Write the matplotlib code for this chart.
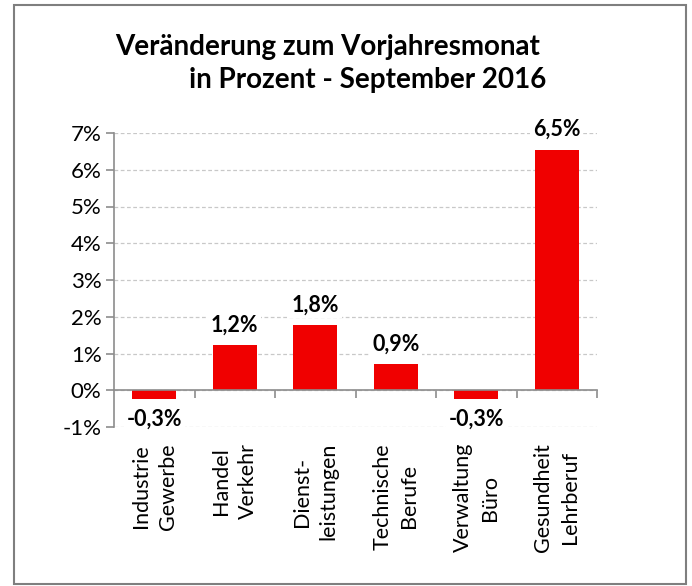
import matplotlib.pyplot as plt
from matplotlib.patches import Rectangle

categories = ["Industrie\nGewerbe", "Handel\nVerkehr", "Dienst-\nleistungen",
              "Technische\nBerufe", "Verwaltung\nBüro", "Gesundheit\nLehrberuf"]
values = [-0.25, 1.22, 1.77, 0.71, -0.25, 6.54]
value_labels = ["-0,3%", "1,2%", "1,8%", "0,9%", "-0,3%", "6,5%"]
yticks = [-1, 0, 1, 2, 3, 4, 5, 6, 7]

plt.rcParams['font.family'] = ['Lato', 'DejaVu Sans']
red = '#f00000'
grey = '#8c8c8c'

fig = plt.figure(figsize=[6.92, 5.86], dpi=100, facecolor='white')
ax = fig.add_axes([114 / 692, 1 - 427 / 586, 483 / 692, 294 / 586])

x = list(range(len(categories)))
ax.bar(x, values, width=0.55, color=red, zorder=3)

ax.set_xlim(-0.5, 5.5)
ax.set_ylim(-1, 7)
ax.set_yticks(yticks)
ax.set_yticklabels([f"{v}%" for v in yticks], fontsize=16)
ax.grid(axis='y', color='#c8c8c8', linestyle=(0, (3, 2)), linewidth=0.9, zorder=0)

for s in ['top', 'right']:
    ax.spines[s].set_visible(False)
ax.spines['bottom'].set_position(('data', 0))
ax.spines['bottom'].set_color(grey)
ax.spines['bottom'].set_linewidth(1.2)
ax.spines['left'].set_color(grey)
ax.spines['left'].set_linewidth(1.2)
ax.spines['bottom'].set_zorder(4)

ax.set_xticks(x)
ax.set_xticklabels(categories, rotation=90, fontsize=15.5, multialignment='center',
                   linespacing=1.45)
ax.tick_params(axis='x', which='major', length=0, pad=38)
ax.set_xticks([i + 0.5 for i in x], minor=True)
ax.tick_params(axis='x', which='minor', length=6, color=grey, width=1.2)
ax.tick_params(axis='y', length=6, color=grey, width=1.2, pad=3)

for xi, v, lab in zip(x, values, value_labels):
    if v >= 0:
        ax.annotate(lab, (xi, v), xytext=(0, 7), textcoords='offset points',
                    ha='center', va='bottom', fontsize=15.5, fontweight='bold',
                    bbox=dict(facecolor='white', edgecolor='none', pad=2), zorder=5)
    else:
        ax.annotate(lab, (xi, v), xytext=(0, -7), textcoords='offset points',
                    ha='center', va='top', fontsize=15.5, fontweight='bold',
                    bbox=dict(facecolor='white', edgecolor='none', pad=2), zorder=5)

fig.text(328 / 692, 1 - 47 / 586, "Veränderung zum Vorjahresmonat",
         ha='center', va='center', fontsize=20, fontweight='bold')
fig.text(368 / 692, 1 - 80 / 586, "in Prozent - September 2016",
         ha='center', va='center', fontsize=20, fontweight='bold')

fig.patches.append(Rectangle((14 / 692, 2 / 586), 672 / 692, 579 / 586,
                             transform=fig.transFigure, fill=False,
                             edgecolor='#7f7f7f', linewidth=1.5))

fig.savefig("out.png", dpi=100, facecolor='white')
